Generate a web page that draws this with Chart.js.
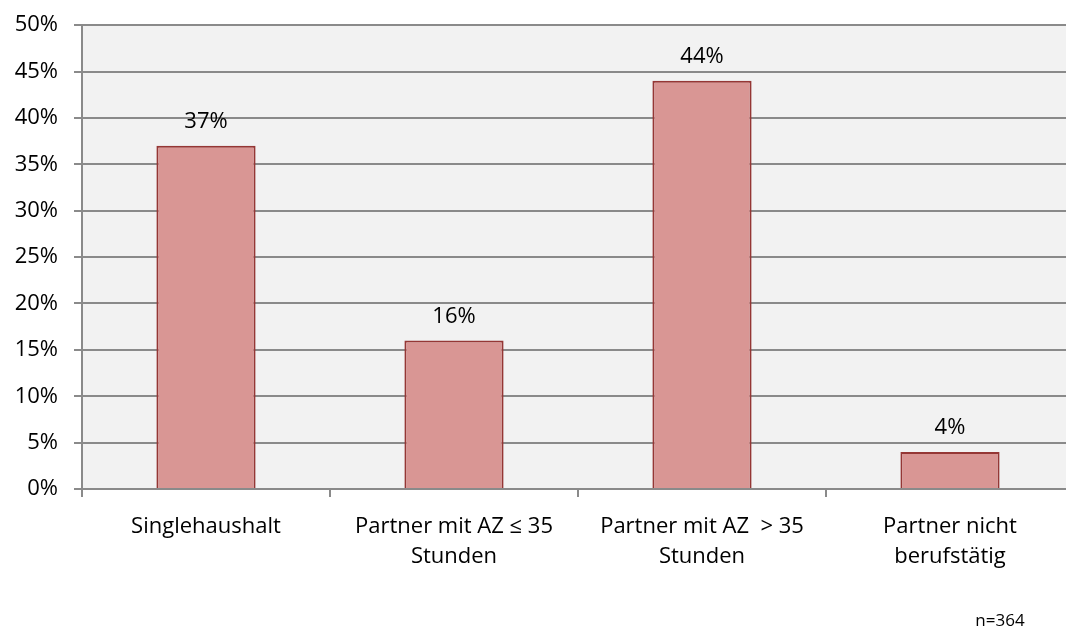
<!DOCTYPE html>
<html lang="de">
<head>
<meta charset="utf-8">
<script src="https://cdn.jsdelivr.net/npm/chart.js@4.4.1/dist/chart.umd.min.js"></script>
<style>
  html, body { margin: 0; padding: 0; background: #fff; overflow: hidden; }
  #wrap { width: 1066px; height: 630px; overflow: hidden; position: relative; }
  #grafica { position: absolute; left: 0; top: -4px; }
</style>
</head>
<body>
<div id="wrap">
  <canvas id="grafica" width="1074" height="634"></canvas>
</div>
<script>
// ================= DATOS =================
const kategorien = [
    ["Singlehaushalt"],
    ["Partner mit AZ \u2264 35", "Stunden"],
    ["Partner mit AZ  > 35", "Stunden"],
    ["Partner nicht", "berufst\u00e4tig"]
];
const anteile = [37, 16, 44, 4];
const yTicks = [0, 5, 10, 15, 20, 25, 30, 35, 40, 45, 50];
const fussnote = "n=364";

const schrift = "'Open Sans', 'DejaVu Sans', sans-serif";
const gitterFarbe = "#8a8a8a";

// Fondo gris del área de la gráfica
const fondoPlugin = {
    id: "fondo",
    beforeDraw(chart) {
        const { ctx, chartArea } = chart;
        ctx.save();
        ctx.fillStyle = "#f2f2f2";
        ctx.fillRect(chartArea.left, chartArea.top, chartArea.right - chartArea.left, chartArea.bottom - chartArea.top);
        ctx.restore();
    }
};

// Etiquetas de valor encima de las barras + nota n=
const etiquetasPlugin = {
    id: "etiquetas",
    afterDatasetsDraw(chart) {
        const { ctx } = chart;
        const meta = chart.getDatasetMeta(0);
        ctx.save();
        ctx.font = "22px " + schrift;
        ctx.fillStyle = "#000";
        ctx.textAlign = "center";
        ctx.textBaseline = "alphabetic";
        meta.data.forEach((bar, i) => {
            ctx.fillText(anteile[i] + "%", bar.x, bar.y - 18);
        });
        ctx.font = "17px " + schrift;
        ctx.fillText(fussnote, 1000, 630);
        ctx.restore();
    }
};

new Chart(document.getElementById("grafica"), {
    type: "bar",
    data: {
        labels: kategorien,
        datasets: [{
            data: anteile,
            backgroundColor: "#d99694",
            borderColor: "#953735",
            borderWidth: 2,
            borderSkipped: "bottom",
            barPercentage: 1,
            categoryPercentage: 0.4
        }]
    },
    options: {
        responsive: false,
        animation: false,
        layout: { padding: { top: 19, left: 0, right: 0, bottom: 0 } },
        plugins: {
            legend: { display: false },
            tooltip: { enabled: false }
        },
        scales: {
            x: {
                afterFit: (scale) => { scale.height = 141; },
                grid: {
                    drawOnChartArea: false,
                    drawTicks: true,
                    tickLength: 8,
                    color: gitterFarbe,
                    lineWidth: 2,
                    offset: true
                },
                border: { color: gitterFarbe, width: 2 },
                ticks: {
                    color: "#000",
                    font: { family: schrift, size: 22, lineHeight: 1.36 },
                    padding: 15,
                    maxRotation: 0,
                    autoSkip: false
                }
            },
            y: {
                min: 0,
                max: 50,
                afterFit: (scale) => { scale.width = 82; },
                afterBuildTicks: (scale) => { scale.ticks = yTicks.map(v => ({ value: v })); },
                grid: {
                    color: gitterFarbe,
                    lineWidth: 2,
                    drawTicks: true,
                    tickLength: 8
                },
                border: { color: gitterFarbe, width: 2 },
                ticks: {
                    color: "#000",
                    font: { family: schrift, size: 22 },
                    padding: 16,
                    callback: (v) => v + "%"
                }
            }
        }
    },
    plugins: [fondoPlugin, etiquetasPlugin]
});
</script>
</body>
</html>
